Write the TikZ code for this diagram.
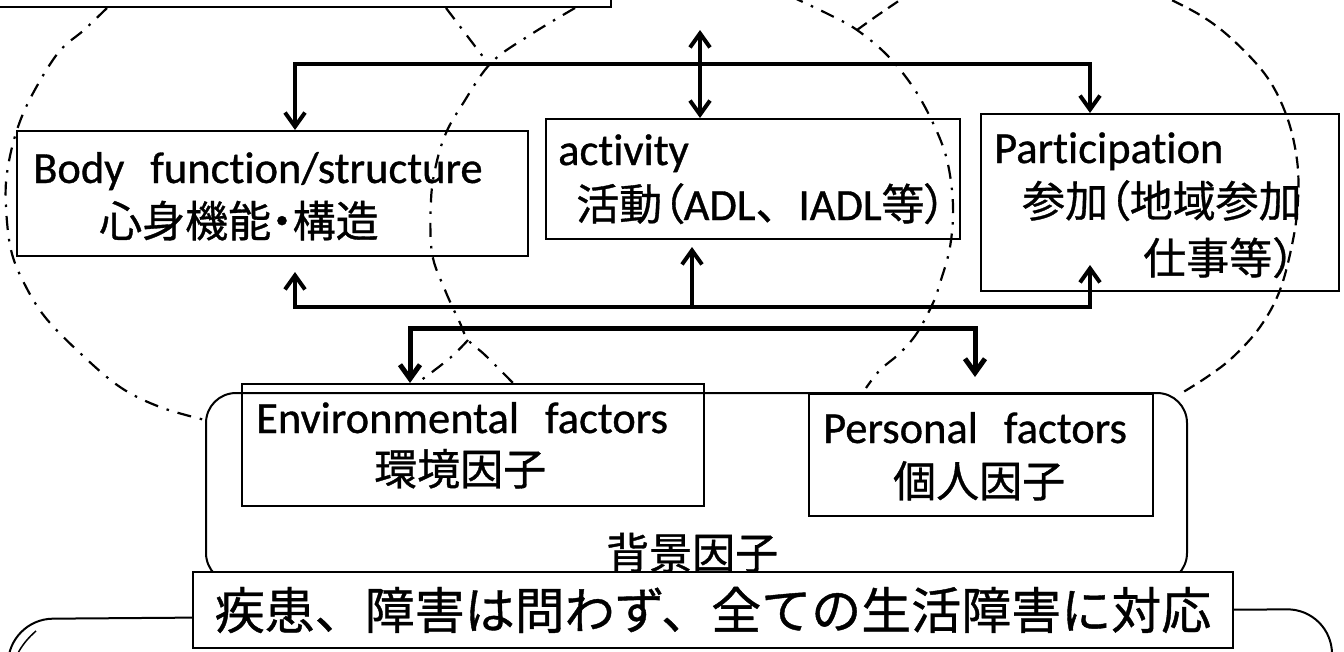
\documentclass[tikz,border=0pt]{standalone}
\usepackage{fontspec}
\setmainfont{Carlito}[Ligatures=NoCommon, FakeBold=0.8]
\newfontfamily\jpfont{Noto Sans CJK JP}[FakeBold=0.8]
\newfontfamily\jppfont{Noto Sans CJK JP}[RawFeature=+palt, FakeBold=0.8]
\newcommand\cj[1]{{\fontsize{43}{50}\selectfont\jpfont #1}}
\newcommand\cjp[1]{{\fontsize{43}{50}\selectfont\jppfont #1}}
\usetikzlibrary{arrows.meta,calc}
\begin{document}
\begin{tikzpicture}[x=1pt,y=-1pt,
  box/.style={draw, line width=2pt, inner sep=0pt, anchor=north west},
  conn/.style={line width=4pt},
  thickconn/.style={line width=5pt},
  tip/.style={-{Straight Barb[length=14pt,width=20pt]}},
  tips/.style={{Straight Barb[length=14pt,width=20pt]}-{Straight Barb[length=14pt,width=20pt]}},
  lat/.style={font=\fontsize{44.5}{50}\selectfont, inner sep=0pt, anchor=base west},
  cjk/.style={font=\fontsize{43}{50}\selectfont\jpfont, inner sep=0pt, anchor=base west},
  dashdotline/.style={line width=2.2pt, dash pattern=on 14pt off 9pt on 2.5pt off 9pt},
  dashline/.style={line width=2.2pt, dash pattern=on 12pt off 7pt}]
\useasboundingbox (0,0) rectangle (1344,651);
\clip (0,0) rectangle (1344,651);
\fill[white] (0,0) rectangle (1344,651);

% overlapping circles
\draw[dashdotline] plot[smooth, tension=0.6] coordinates {(107,8) (84,30) (58,53) (31,97) (16,133) (7,173) (6,207) (11,250) (24,283) (45,317) (80,353) (120,387) (160,407) (205,420)};
\draw[dashdotline] (446,8) -- (487,62);
\draw[dashdotline] plot[smooth, tension=0.6] coordinates {(575,8) (530,35) (491,63) (462,105) (446,133) (436,165) (431,200) (432,253) (445,290) (460,323) (468,340) (485,355) (513,383)};
\draw[dashdotline] plot[smooth, tension=0.6] coordinates {(468,340) (450,358) (420,381)};
\draw[dashdotline] plot[smooth, tension=0.6] coordinates {(790,-4) (830,15) (857,30) (887,55) (913,87) (933,123) (947,160) (953,205) (950,247) (940,283) (933,303) (917,333) (900,353) (880,370) (866,388)};
\draw[dashline] plot[smooth, tension=0.6] coordinates {(857,30) (878,15) (906,-4)};
\draw[dashline] plot[smooth, tension=0.6] coordinates {(1155,-8) (1200,15) (1233,40) (1267,77) (1287,117) (1297,160) (1298,200) (1293,240) (1280,290) (1260,327) (1233,357) (1207,377) (1180,394)};

% top box (text out of view)
\node[box, anchor=south east, minimum width=640pt, minimum height=60pt] (topbox) at (612,8) {};

% boxes
\node[box, minimum width=511pt, minimum height=125pt] (body) at (16,130) {};
\node[box, minimum width=414pt, minimum height=120pt] (act) at (545,118) {};
\node[box, minimum width=358pt, minimum height=177pt] (part) at (980,113) {};
\node[box, rounded corners=30pt, minimum width=981pt, minimum height=190pt] (bg) at (205,392) {};
\node[box, minimum width=462pt, minimum height=122pt] (env) at (241,383) {};
\node[box, minimum width=344pt, minimum height=122pt] (pers) at (808,393) {};

% texts
\node[lat] (bodyt) at (33,183) {Body\hspace{26pt}function/structure};
\node[lat] (bodyj) at (99,237) {\cj{心身機能}\cjp{・}\cj{構造}};
\node[lat] (actt) at (558,165) {activity};
\node[lat] (actj) at (576,220) {\cj{活動}\cjp{（}ADL\cj{、}IADL\cj{等}\cjp{）}};
\node[lat] (partt) at (994,163) {Participation};
\node[lat] (partj1) at (1022,217) {\cj{参加}\cjp{（}\cj{地域参加}};
\node[cjk] (partj2) at (1143,274) {仕事等）};
\node[lat] (envt) at (256,433) {Environmental\hspace{26pt}factors};
\node[cjk] (envj) at (374,485) {環境因子};
\node[lat] (perst) at (823,443) {Personal\hspace{26pt}factors};
\node[cjk] (persj) at (893,497) {個人因子};
\node[font=\fontsize{43}{48}\selectfont\jpfont, inner sep=0pt, anchor=base west] (bgt) at (606,569) {背景因子};

% bottom outer frame
\draw[line width=2pt, rounded corners=45pt] (8,720) -- (8,619) -- (1332,609) -- (1332,720);
\draw[line width=1.5pt] (17,655) .. controls (22,645) and (28,638) .. (36,631);

% bottom label
\node[box, fill=white, minimum width=1040pt, minimum height=76pt, font=\fontsize{50}{56}\selectfont\jpfont] (label) at (192,571) {疾患、障害は問わず、全ての生活障害に対応};

% connectors
\coordinate (ta) at (295,64);
\coordinate (tb) at (1090,64);
\coordinate (tc) at (700,30);
\draw[conn, tips] (ta |- body.north) -- (ta) -- (tb) -- (tb |- part.north);
\draw[conn, tips] (tc) -- (tc |- act.north);

\coordinate (ba) at (295,307);
\coordinate (bb) at (1090,307);
\coordinate (bc) at (692,307);
\draw[conn, tips] ($(ba |- body.south)+(0,15)$) -- (ba) -- (bb) -- ($(bb |- part.south)+(0,-27)$);
\draw[conn, tip] (bc) -- ($(bc |- act.south)+(0,7)$);

\coordinate (ea) at (410,328);
\coordinate (eb) at (975,328);
\draw[thickconn, tips] (ea |- env.north) -- (ea) -- (eb) -- ($(eb |- pers.north)+(0,-16)$);
\end{tikzpicture}
\end{document}
